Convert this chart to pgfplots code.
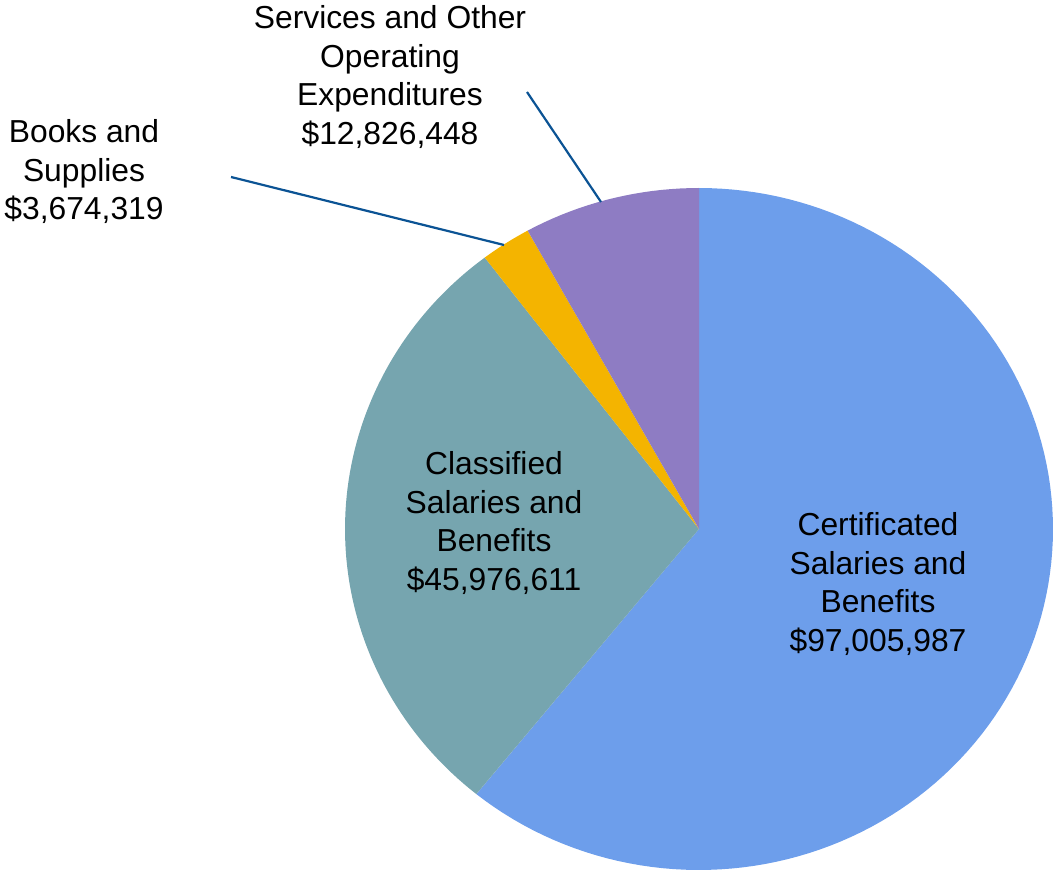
\documentclass[border=0pt]{standalone}
\usepackage{fontspec}
\setmainfont{Liberation Sans}
\usepackage{pgfplots}
\pgfplotsset{compat=1.18}

% slice values (dollars)
\def\vCert{97005987}
\def\vClass{45976611}
\def\vBooks{3674319}
\def\vServ{12826448}
\edef\vTot{\fpeval{\vCert+\vClass+\vBooks+\vServ}}
% angles, clockwise from 12 o'clock
\edef\aA{90}
\edef\aB{\fpeval{90-360*\vCert/\vTot}}
\edef\aC{\fpeval{\aB-360*\vClass/\vTot}}
\edef\aD{\fpeval{\aC-360*\vBooks/\vTot}}
\edef\aE{\fpeval{\aD-360*\vServ/\vTot}}

\definecolor{cert}{HTML}{6D9EEB}
\definecolor{class}{HTML}{76A5AF}
\definecolor{books}{HTML}{F4B400}
\definecolor{serv}{HTML}{8E7CC3}
\definecolor{lead}{HTML}{0B5394}

\tikzset{lbl/.style={font=\fontsize{15.9}{19.25}\selectfont, align=center, inner sep=0pt}}

\begin{document}
\begin{tikzpicture}
\begin{axis}[name=ax, width=528pt, height=435.5pt, scale only axis,
  xmin=0, xmax=1056, ymin=0, ymax=871, y dir=reverse,
  hide axis, clip=false]
  % pie centre (699,529), radii 354 x 341 px
  \addplot[fill=cert, draw=none, domain=\aB:\aA, samples=120, variable=\t]
    ({699+354*cos(t)},{529-341*sin(t)}) -- (axis cs:699,529) -- cycle;
  \addplot[fill=class, draw=none, domain=\aC:\aB, samples=80, variable=\t]
    ({699+354*cos(t)},{529-341*sin(t)}) -- (axis cs:699,529) -- cycle;
  \addplot[fill=books, draw=none, domain=\aD:\aC, samples=10, variable=\t]
    ({699+354*cos(t)},{529-341*sin(t)}) -- (axis cs:699,529) -- cycle;
  \addplot[fill=serv, draw=none, domain=\aE:\aD, samples=20, variable=\t]
    ({699+354*cos(t)},{529-341*sin(t)}) -- (axis cs:699,529) -- cycle;
  % leader lines
  \addplot[lead, line width=1.1pt] coordinates {(527,92) (601,202)};
  \addplot[lead, line width=1.1pt] coordinates {(231,177) (504,245)};
  % labels
  \node[lbl] at (axis cs:390,77) {Services and Other\\Operating\\Expenditures\\\$12,826,448};
  \node[lbl] at (axis cs:84,172) {Books and\\Supplies\\\$3,674,319};
  \node[lbl] at (axis cs:494,523) {Classified\\Salaries and\\Benefits\\\$45,976,611};
  \node[lbl] at (axis cs:878,584) {Certificated\\Salaries and\\Benefits\\\$97,005,987};
\end{axis}
\pgfresetboundingbox
\path[use as bounding box] (ax.south west) rectangle (ax.north east);
\end{tikzpicture}
\end{document}
